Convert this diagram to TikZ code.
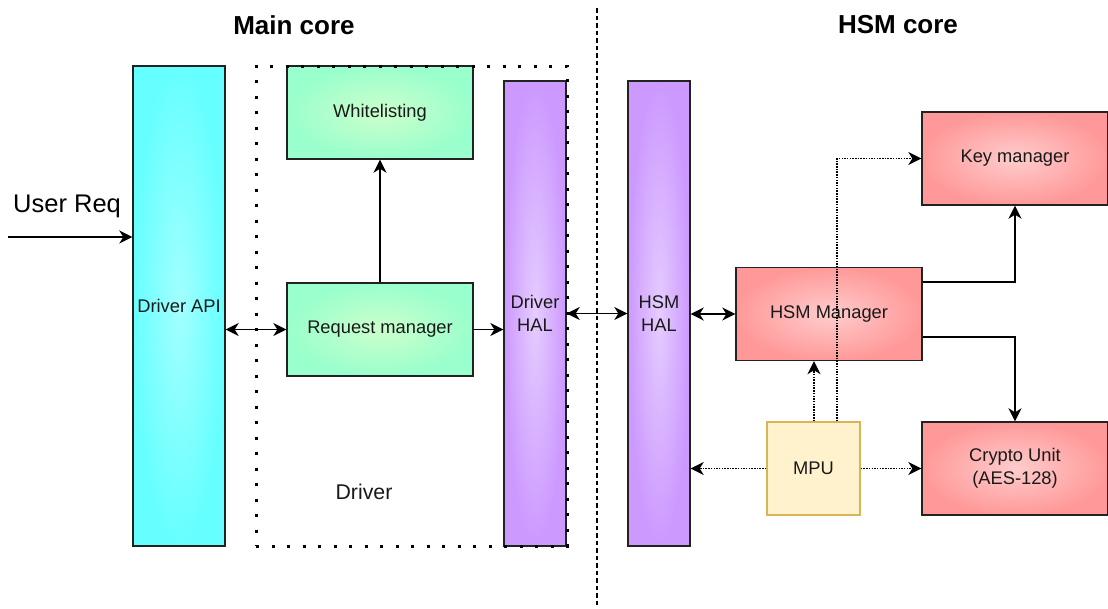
\documentclass[tikz,border=0pt]{standalone}
\usepackage{fontspec}
\setmainfont{Liberation Sans}
\usetikzlibrary{arrows.meta,calc}

\definecolor{apiout}{HTML}{66FFFF}
\definecolor{apiin}{HTML}{A3FFFF}
\definecolor{grnout}{HTML}{99FFCC}
\definecolor{grnin}{HTML}{CCFFCC}
\definecolor{purout}{HTML}{CC99FF}
\definecolor{purin}{HTML}{E5CCFF}
\definecolor{redout}{HTML}{FF9999}
\definecolor{redin}{HTML}{FFCCCC}
\definecolor{mpufill}{HTML}{FFF2CC}
\definecolor{mpuline}{HTML}{D6B656}
\definecolor{edge}{HTML}{222222}

\tikzset{
  txt/.style={font=\fontsize{18.3}{22.5}\selectfont, text=black!90},
  block/.style={txt, draw=edge, line width=1.4pt, inner sep=0pt, align=center, rectangle},
  apibox/.style={block, inner color=apiin, outer color=apiout},
  grnbox/.style={block, inner color=grnin, outer color=grnout},
  purbox/.style={block, inner color=purin, outer color=purout},
  redbox/.style={block, inner color=redin, outer color=redout},
  mpubox/.style={block, draw=mpuline, fill=mpufill},
  title/.style={font=\fontsize{26}{30}\selectfont\bfseries},
  headtip/.tip={Stealth[length=13pt,width=13pt,inset=4pt]},
  arr/.style={-headtip, line width=1.5pt, draw=black},
  darr/.style={headtip-headtip, line width=1.5pt, draw=black},
  dotarr/.style={arr, dash pattern=on 1.5pt off 1.2pt},
  frame/.style={draw=black, line width=3pt, dash pattern=on 3pt off 12.5pt, inner sep=0pt},
  divider/.style={draw=black, line width=1.4pt, dash pattern=on 4.5pt off 3pt},
}

\begin{document}
\begin{tikzpicture}[x=1pt, y=-1pt]
  \useasboundingbox (0,0) rectangle (1108,608);

  % section titles
  \node[title] (tmain) at (294,25) {Main core};
  \node[title] (thsm) at (898,25) {HSM core};

  % separator between the two cores
  \coordinate (divtop) at (597,8);
  \coordinate (divbot) at (597,608);
  \draw[divider] (divtop) -- (divbot);

  % main core
  \node[apibox, minimum width=92pt, minimum height=480pt] (api) at (179,306) {Driver API};
  \node[grnbox, minimum width=186pt, minimum height=93pt] (white) at (380,112.5) {Whitelisting};
  \node[grnbox, minimum width=186pt, minimum height=93pt] (reqm) at (380,329.5) {Request manager};
  \node[purbox, minimum width=62pt, minimum height=465pt] (drvhal) at (535,313.5) {Driver\\HAL};
  \node[frame, minimum width=311pt, minimum height=480pt] (drvframe) at (411.5,306) {};
  \node[txt, font=\fontsize{21.3}{25}\selectfont] (drvlabel) at (364,492) {Driver};

  % user request entry
  \coordinate (ustart) at (8,237);
  \node[font=\fontsize{25.5}{30}\selectfont, anchor=west, inner sep=0pt] (ulabel) at (13,206) {User Req};
  \draw[arr] (ustart) -- (api.west |- ustart);

  \draw[darr] (api.east |- reqm.west) -- (reqm.west);
  \draw[arr] (reqm.north) -- (white.south);
  \draw[arr] (reqm.east) -- (drvhal.west |- reqm.east);

  % HSM core
  \node[purbox, minimum width=62pt, minimum height=465pt] (hsmhal) at (659,313.5) {HSM\\HAL};
  \node[redbox, minimum width=186pt, minimum height=93pt] (hsmm) at (829,314) {HSM Manager};
  \node[redbox, minimum width=186pt, minimum height=93pt] (keym) at (1015,158.5) {Key manager};
  \node[redbox, minimum width=186pt, minimum height=93pt] (crypto) at (1015,468.5) {Crypto Unit\\(AES-128)};
  \node[mpubox, minimum width=93pt, minimum height=93pt] (mpu) at (813.5,468.5) {MPU};

  \draw[darr] (drvhal.east |- hsmhal.west) -- (hsmhal.west);
  \draw[darr] (hsmhal.east |- hsmm.west) -- (hsmm.west);
  \draw[arr] (hsmm.east |- 0,282) -| (keym.south);
  \draw[arr] (hsmm.east |- 0,337) -| (crypto.north);

  % MPU supervision links
  \draw[dotarr] (mpu.north -| 814,0) -- (hsmm.south -| 814,0);
  \draw[dotarr] (mpu.north -| 837,0) |- (keym.west);
  \draw[dotarr] (mpu.west) -- (hsmhal.east |- mpu.west);
  \draw[dotarr] (mpu.east) -- (crypto.west);
\end{tikzpicture}
\end{document}
